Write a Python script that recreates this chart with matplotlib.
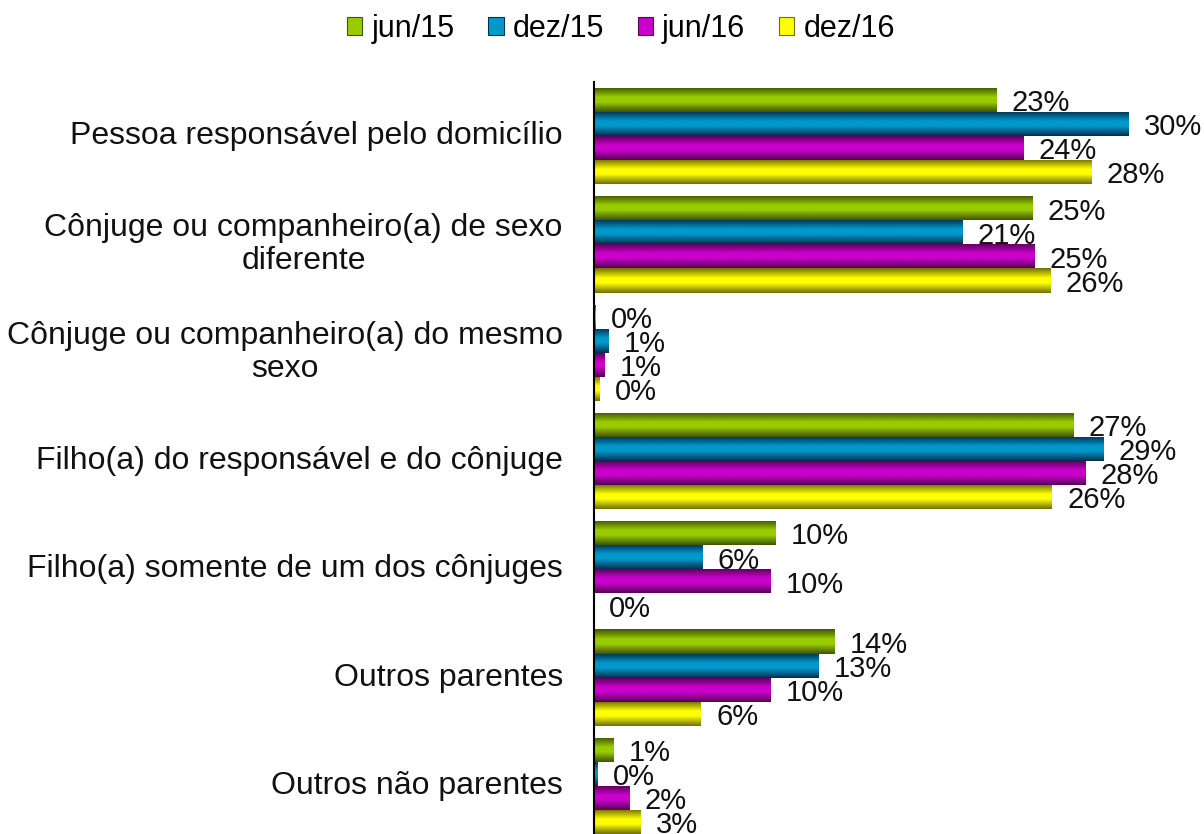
import matplotlib
matplotlib.use("Agg")
import matplotlib.pyplot as plt
import numpy as np
from matplotlib.colors import LinearSegmentedColormap
from matplotlib.patches import Patch

plt.rcParams['font.family'] = ['Liberation Sans', 'DejaVu Sans']

# dados
categorias = [
    'Pessoa responsável pelo domicílio',
    'Cônjuge ou companheiro(a) de sexo\ndiferente',
    'Cônjuge ou companheiro(a) do mesmo\nsexo',
    'Filho(a) do responsável e do cônjuge',
    'Filho(a) somente de um dos cônjuges',
    'Outros parentes',
    'Outros não parentes',
]
series = ['jun/15', 'dez/15', 'jun/16', 'dez/16']
jun15 = [22.6, 24.6, 0.1, 26.9, 10.2, 13.5, 1.1]
dez15 = [30.0, 20.7, 0.8, 28.6, 6.1, 12.6, 0.2]
jun16 = [24.1, 24.7, 0.6, 27.6, 9.9, 9.9, 2.0]
dez16 = [27.9, 25.6, 0.3, 25.7, 0.0, 6.0, 2.6]
valores = [jun15, dez15, jun16, dez16]

# cores (clara, escura)
cores = [('#99cc00', '#3f5500'), ('#0099cc', '#00304f'),
         ('#cc00cc', '#550055'), ('#ffff00', '#707000')]

fig = plt.figure(figsize=(12.04, 8.34), dpi=100)
ax = fig.add_axes([594 / 1204, -6 / 834, 588 / 1204, 758 / 834])
ax.set_xlim(0, 33)
ax.set_ylim(6.5, -0.5)

h = 0.222
y = np.arange(len(categorias))
grad = np.linspace(0, 1, 64).reshape(-1, 1)

for j, (nome, vals) in enumerate(zip(series, valores)):
    claro, escuro = cores[j]
    cmap = LinearSegmentedColormap.from_list(
        nome, [(0, escuro), (0.4, claro), (0.6, claro), (1, escuro)])
    pos = y + (j - 1.5) * h
    bars = ax.barh(pos, vals, height=h, color=claro, edgecolor='none')
    # sombreado em gradiente dentro de cada barra
    for b, v in zip(bars, vals):
        if v <= 0:
            continue
        x0, y0 = b.get_x(), b.get_y()
        im = ax.imshow(grad, cmap=cmap, aspect='auto', interpolation='bilinear',
                       extent=(x0, x0 + b.get_width(), y0 + h, y0), zorder=2)
        im.set_clip_path(b)
    for p, v in zip(pos, vals):
        ax.text(v + 0.85, p + 0.03, f'{round(v):d}%', ha='left', va='center',
                fontsize=21, color='#111111', zorder=3)

ax.set_xlim(0, 33)
ax.set_ylim(6.5, -0.5)

for i, c in enumerate(categorias):
    ax.text(-1.75, i, c, ha='right', va='center', multialignment='center',
            fontsize=23, color='#111111', linespacing=1.15)

for s in ['top', 'right', 'bottom']:
    ax.spines[s].set_visible(False)
ax.spines['left'].set_color('black')
ax.spines['left'].set_linewidth(1.5)
ax.set_xticks([])
ax.set_yticks([])

handles = [Patch(facecolor=cores[j][0], edgecolor=cores[j][1], linewidth=0.8)
           for j in range(4)]
fig.legend(handles, series, loc='center', bbox_to_anchor=(621 / 1204, 1 - 29 / 834),
           ncol=4, frameon=False, fontsize=22, handlelength=0.5, handleheight=0.5,
           handletextpad=0.3, columnspacing=1.1)

fig.savefig('out.png', dpi=100)
